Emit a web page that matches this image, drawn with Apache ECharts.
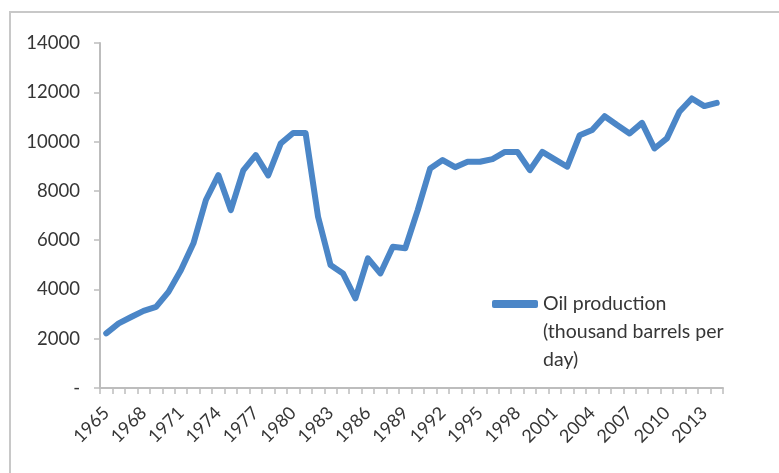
<!DOCTYPE html>
<html>
<head>
<meta charset="utf-8">
<script src="https://cdn.jsdelivr.net/npm/echarts@6/dist/echarts.min.js"></script>
<style>
  html, body { margin: 0; padding: 0; background: #fff; }
  #chart { width: 779px; height: 473px; }
</style>
</head>
<body>
<div id="chart"></div>
<script>
// Annual oil production, 1965-2014 (thousand barrels per day)
const years = [
  '1965','1966','1967','1968','1969','1970','1971','1972','1973','1974',
  '1975','1976','1977','1978','1979','1980','1981','1982','1983','1984',
  '1985','1986','1987','1988','1989','1990','1991','1992','1993','1994',
  '1995','1996','1997','1998','1999','2000','2001','2002','2003','2004',
  '2005','2006','2007','2008','2009','2010','2011','2012','2013','2014'
];
const production = [
  2220, 2620, 2880, 3130, 3290, 3900, 4790, 5870, 7630, 8640,
  7220, 8830, 9450, 8630, 9920, 10350, 10350, 6950, 4990, 4650,
  3640, 5260, 4650, 5730, 5670, 7220, 8910, 9250, 8960, 9180,
  9180, 9290, 9580, 9580, 8840, 9580, 9280, 8980, 10260, 10470,
  11030, 10670, 10330, 10760, 9720, 10130, 11210, 11750, 11440, 11570
];
const seriesName = 'Oil production (thousand barrels per day)';
const legendLines = ['Oil production', '(thousand barrels per', 'day)'];
const yTicks = { min: 0, max: 14000, step: 2000 };

const textColor = '#363636';
const axisGrey = '#bdbdbd';
const fontFamily = 'Lato, "Open Sans", sans-serif';

const chart = echarts.init(document.getElementById('chart'), null, { renderer: 'canvas' });

chart.setOption({
  animation: false,
  backgroundColor: '#ffffff',
  graphic: [{
    type: 'rect',
    z: -10,
    shape: { x: 10, y: 12, width: 820, height: 520 },
    style: { fill: 'none', stroke: '#c8c8c8', lineWidth: 2 }
  }],
  grid: { left: 100, right: 56, top: 43, bottom: 85, containLabel: false },
  legend: {
    left: 492,
    top: 234,
    padding: 0,
    itemWidth: 46,
    itemHeight: 8,
    itemGap: 0,
    icon: 'roundRect',
    // two leading blank lines keep the key line level with the first text line
    formatter: () => [' ', ' '].concat(legendLines).join('\n'),
    textStyle: {
      color: textColor,
      fontFamily: fontFamily,
      fontSize: 19.5,
      lineHeight: 28
    },
    data: [seriesName]
  },
  xAxis: {
    type: 'category',
    data: years,
    boundaryGap: true,
    axisLine: { lineStyle: { color: axisGrey, width: 2 } },
    axisTick: { show: true, interval: 0, length: 6, lineStyle: { color: axisGrey, width: 1.5 } },
    axisLabel: {
      interval: 2,
      rotate: 45,
      margin: 22,
      color: textColor,
      fontFamily: fontFamily,
      fontSize: 18
    },
    splitLine: { show: false }
  },
  yAxis: {
    type: 'value',
    min: yTicks.min,
    max: yTicks.max,
    interval: yTicks.step,
    axisLine: { show: true, lineStyle: { color: axisGrey, width: 2 } },
    axisTick: { show: true, length: 6, lineStyle: { color: axisGrey, width: 1.5 } },
    axisLabel: {
      margin: 20,
      color: textColor,
      fontFamily: fontFamily,
      fontSize: 18.5,
      formatter: v => (v === 0 ? '-' : String(v))
    },
    splitLine: { show: false }
  },
  series: [{
    name: seriesName,
    type: 'line',
    data: production,
    showSymbol: false,
    symbol: 'none',
    lineStyle: { color: '#4b86c7', width: 6, join: 'round', cap: 'round' },
    itemStyle: { color: '#4b86c7' }
  }]
});
</script>
</body>
</html>
